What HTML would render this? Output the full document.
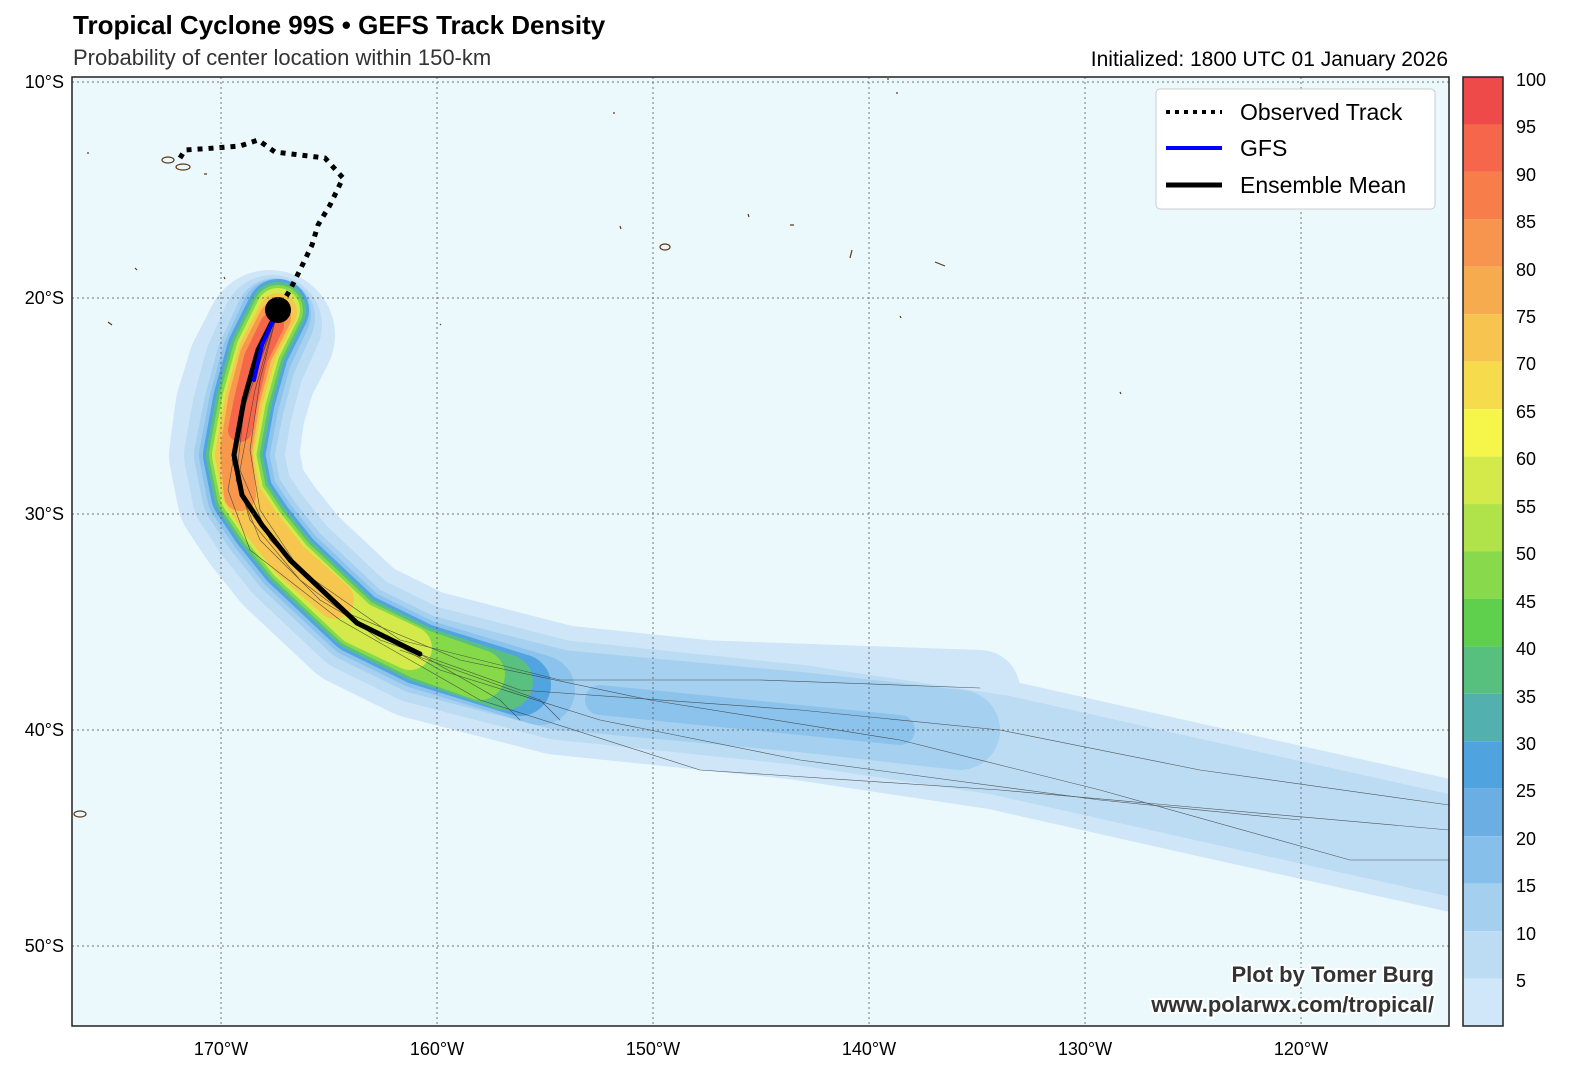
<!DOCTYPE html>
<html><head><meta charset="utf-8"><style>
body{margin:0;background:#fff;width:1576px;height:1076px;overflow:hidden;font-family:"Liberation Sans",sans-serif}
</style></head><body>
<svg width="1576" height="1076" xmlns="http://www.w3.org/2000/svg" font-family="Liberation Sans, sans-serif">
<defs><clipPath id="c"><rect x="72" y="77" width="1377" height="949"/></clipPath></defs>
<text x="73" y="34" font-size="26" font-weight="bold" fill="#000">Tropical Cyclone 99S • GEFS Track Density</text>
<text x="73" y="65" font-size="22" fill="#333">Probability of center location within 150-km</text>
<text x="1448" y="66" font-size="21" fill="#000" text-anchor="end">Initialized: 1800 UTC 01 January 2026</text>
<rect x="72" y="77" width="1377" height="949" fill="#ecf9fc"/>
<g clip-path="url(#c)" fill="none" stroke-linecap="round" stroke-linejoin="round">
<path d="M270,335 L252,370 L240,410 L234,455 L242,495 L262,525 L290,560 L325,593 L357,623 L420,654 L560,690 L800,715 L1000,745 L1200,790 L1470,850" stroke="#cfe6f8" stroke-width="130"/>
<path d="M420,654 L560,680 L700,680 L980,690" stroke="#cfe6f8" stroke-width="80"/>
<path d="M500,690 L800,730 L1000,760 L1200,810 L1470,870" stroke="#cfe6f8" stroke-width="90"/>
<path d="M272,325 L254,365 L242,410 L234,455 L242,495 L262,525 L290,560 L325,593 L357,623 L420,654 L560,690 L800,715 L1000,745 L1200,790 L1470,850" stroke="#bcdcf3" stroke-width="100"/>
<path d="M560,690 L800,720 L1000,770 L1200,810 L1470,860" stroke="#bcdcf3" stroke-width="50"/>
<path d="M275,318 L256,360 L244,405 L234,455 L242,495 L262,525 L290,560 L325,593 L357,623 L420,654 L560,690 L800,712 L960,730" stroke="#a6d0f0" stroke-width="80"/>
<path d="M600,700 L800,720 L900,730" stroke="#8cc3ec" stroke-width="30"/>
<path d="M276,314 L257,355 L244,403 L234,455 L242,495 L262,525 L290,560 L325,593 L357,623 L420,654 L540,690" stroke="#8cc3ec" stroke-width="70"/>
<path d="M278,310 L258,350 L244,400 L234,455 L242,495 L262,525 L290,560 L325,593 L357,623 L420,654 L520,685" stroke="#52a4e0" stroke-width="62"/>
<path d="M278,310 L258,350 L244,400 L234,455 L242,495 L262,525 L290,560 L325,593 L357,623 L420,654 L505,682" stroke="#59c07f" stroke-width="56"/>
<path d="M278,310 L258,350 L244,400 L234,455 L242,495 L262,525 L290,560 L325,593 L357,623 L420,654 L480,675" stroke="#86da4a" stroke-width="50"/>
<path d="M278,310 L258,350 L244,400 L234,455 L242,495 L262,525 L290,560 L325,593 L357,623 L410,648" stroke="#d4ea4a" stroke-width="44"/>
<path d="M278,312 L258,350 L244,400 L234,455 L242,495 L262,525 L290,560 L335,600" stroke="#f6c64e" stroke-width="38"/>
<path d="M275,318 L256,355 L244,400 L236,450 L240,495" stroke="#f7984d" stroke-width="32"/>
<path d="M272,325 L256,358 L246,400 L240,430" stroke="#f5664a" stroke-width="24"/>
<g stroke="#333" stroke-width="0.6" opacity="0.8">
<path d="M278,310 L250,380 L232,460 L250,520 L300,580 L380,640 L520,690 L800,710 L1000,730 L1200,770 L1449,805"/>
<path d="M278,310 L255,390 L240,470 L270,540 L340,610 L460,660 L650,700 L900,740 L1100,790 L1350,860 L1449,860"/>
<path d="M278,310 L245,400 L236,480 L260,540 L320,600 L440,670 L600,720 L800,760 L1100,800 L1300,820"/>
<path d="M278,310 L260,380 L250,450 L260,510 L300,570 L400,640 L560,680 L760,680 L980,688"/>
<path d="M278,310 L240,420 L228,490 L250,550 L340,620 L480,700 L700,770 L1000,790 L1449,830"/>
<path d="M420,654 L500,700 L520,720"/>
<path d="M400,650 L540,700 L560,720"/>
</g>
<path d="M278,310 L258,350 L244,400 L234,455 L242,495 L262,525 L290,560 L325,593 L357,623 L420,654" stroke="#000" stroke-width="5"/>
<path d="M278,310 L262,345 L254,380" stroke="#00f" stroke-width="4"/>
<path d="M180,158 L185,150 L215,148 L240,146 L258,140 L275,152 L325,158 L343,178 L330,205 L318,225 L312,245 L300,270 L290,290 L278,310" stroke="#000" stroke-width="5" stroke-dasharray="5,6" stroke-linecap="butt"/>
</g>
<circle cx="278" cy="310" r="13" fill="#000"/>
<g fill="none" stroke="#5a3a1a" stroke-width="1.2">
<ellipse cx="183" cy="167" rx="7" ry="3"/><ellipse cx="168" cy="160" rx="6" ry="3"/><ellipse cx="665" cy="247" rx="5" ry="3"/><ellipse cx="80" cy="814" rx="6" ry="3"/>
<path d="M135,268 l2,2 M224,277 l1,2 M108,322 l4,3 M620,226 l1,3 M748,214 l1,3 M790,225 l4,0 M852,250 l-2,8 M935,262 l10,4 M900,316 l1,2 M1120,392 l1,2 M888,78 l0,2 M897,92 l0,2 M614,112 l0,2 M440,324 l1,1 M204,174 l3,0 M88,152 l0,2"/>
</g>
<g stroke="#555" stroke-width="1" stroke-dasharray="2,3" opacity="0.8">
<line x1="221" y1="77" x2="221" y2="1026"/><line x1="437" y1="77" x2="437" y2="1026"/><line x1="653" y1="77" x2="653" y2="1026"/><line x1="869" y1="77" x2="869" y2="1026"/><line x1="1085" y1="77" x2="1085" y2="1026"/><line x1="1301" y1="77" x2="1301" y2="1026"/>
<line x1="72" y1="82" x2="1449" y2="82"/><line x1="72" y1="298" x2="1449" y2="298"/><line x1="72" y1="514" x2="1449" y2="514"/><line x1="72" y1="730" x2="1449" y2="730"/><line x1="72" y1="946" x2="1449" y2="946"/>
</g>
<rect x="72" y="77" width="1377" height="949" fill="none" stroke="#222" stroke-width="1.5"/>
<g font-size="18" fill="#000" text-anchor="middle">
<text x="221" y="1055">170°W</text><text x="437" y="1055">160°W</text><text x="653" y="1055">150°W</text><text x="869" y="1055">140°W</text><text x="1085" y="1055">130°W</text><text x="1301" y="1055">120°W</text>
</g>
<g font-size="18" fill="#000" text-anchor="end">
<text x="64" y="88">10°S</text><text x="64" y="304">20°S</text><text x="64" y="520">30°S</text><text x="64" y="736">40°S</text><text x="64" y="952">50°S</text>
</g>
<rect x="1156" y="89" width="279" height="120" rx="4" fill="#fff" stroke="#ccc"/>
<line x1="1166" y1="112" x2="1222" y2="112" stroke="#000" stroke-width="4" stroke-dasharray="4,5"/>
<line x1="1166" y1="148" x2="1222" y2="148" stroke="#00f" stroke-width="4"/>
<line x1="1166" y1="185" x2="1222" y2="185" stroke="#000" stroke-width="5"/>
<g font-size="23" fill="#000"><text x="1240" y="120">Observed Track</text><text x="1240" y="156">GFS</text><text x="1240" y="193">Ensemble Mean</text></g>
<g font-size="22" font-weight="bold" fill="#333" text-anchor="end" stroke="#fff" stroke-width="4" paint-order="stroke">
<text x="1434" y="982">Plot by Tomer Burg</text><text x="1434" y="1012">www.polarwx.com/tropical/</text></g>
<g>
<rect x="1463" y="77.0" width="40" height="47.45" fill="#ef4a4a"/>
<rect x="1463" y="124.45" width="40" height="47.45" fill="#f5664a"/>
<rect x="1463" y="171.9" width="40" height="47.45" fill="#f77e4b"/>
<rect x="1463" y="219.35" width="40" height="47.45" fill="#f7944d"/>
<rect x="1463" y="266.8" width="40" height="47.45" fill="#f7ab4f"/>
<rect x="1463" y="314.25" width="40" height="47.45" fill="#f6c44f"/>
<rect x="1463" y="361.7" width="40" height="47.45" fill="#f6dc4c"/>
<rect x="1463" y="409.15" width="40" height="47.45" fill="#f6f64a"/>
<rect x="1463" y="456.6" width="40" height="47.45" fill="#d4ea4a"/>
<rect x="1463" y="504.05" width="40" height="47.45" fill="#b0e24a"/>
<rect x="1463" y="551.5" width="40" height="47.45" fill="#88da4c"/>
<rect x="1463" y="598.95" width="40" height="47.45" fill="#5fd04e"/>
<rect x="1463" y="646.4" width="40" height="47.45" fill="#58c07e"/>
<rect x="1463" y="693.85" width="40" height="47.45" fill="#52b0ae"/>
<rect x="1463" y="741.3" width="40" height="47.45" fill="#4fa4e0"/>
<rect x="1463" y="788.75" width="40" height="47.45" fill="#6aaee4"/>
<rect x="1463" y="836.2" width="40" height="47.45" fill="#86bfea"/>
<rect x="1463" y="883.65" width="40" height="47.45" fill="#a4cfef"/>
<rect x="1463" y="931.1" width="40" height="47.45" fill="#bcdcf3"/>
<rect x="1463" y="978.55" width="40" height="47.45" fill="#d0e6f9"/>
<rect x="1463" y="77" width="40" height="949" fill="none" stroke="#222" stroke-width="1.5"/>
</g>
<g font-size="18" fill="#000">
<text x="1516" y="86">100</text><text x="1516" y="133">95</text><text x="1516" y="181">90</text><text x="1516" y="228">85</text><text x="1516" y="276">80</text><text x="1516" y="323">75</text><text x="1516" y="370">70</text><text x="1516" y="418">65</text><text x="1516" y="465">60</text><text x="1516" y="513">55</text><text x="1516" y="560">50</text><text x="1516" y="608">45</text><text x="1516" y="655">40</text><text x="1516" y="703">35</text><text x="1516" y="750">30</text><text x="1516" y="797">25</text><text x="1516" y="845">20</text><text x="1516" y="892">15</text><text x="1516" y="940">10</text><text x="1516" y="987">5</text>
</g>
</svg>
</body></html>
